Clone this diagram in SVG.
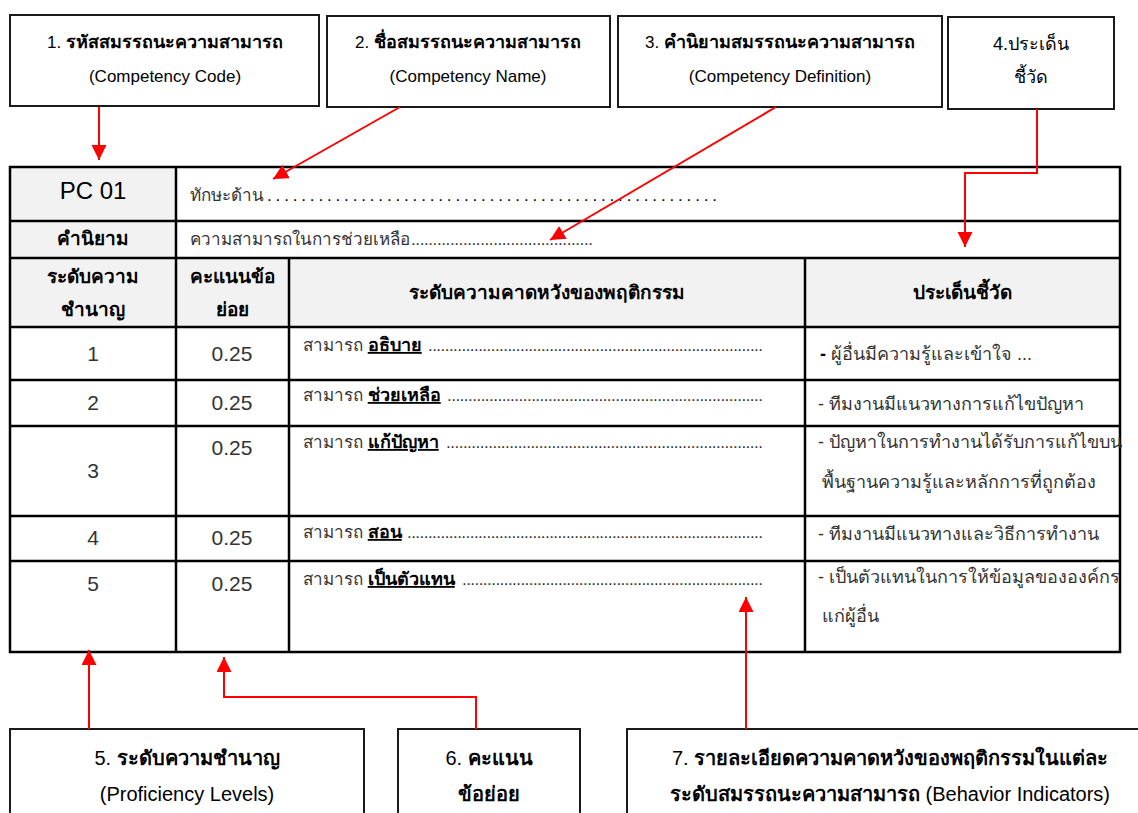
<svg xmlns="http://www.w3.org/2000/svg" width="1138" height="813" viewBox="0 0 1138 813">
<defs>
<style>
.box{fill:#fff;stroke:#1a1a1a;stroke-width:2}
.t{font-family:"Liberation Sans","Noto Sans",sans-serif;fill:#000}
.bt{font-size:17px;text-anchor:middle}
.th{font-size:18px}
.bb{font-size:20px;text-anchor:middle}
.b{font-weight:bold}
.hd{font-size:19px;font-weight:bold;text-anchor:middle}
.cell{font-size:17px;fill:#333}
.rc{font-size:18px;fill:#333}
.num{font-size:21px;fill:#333;text-anchor:middle}
.gl{stroke:#000;stroke-width:2.5;fill:none}
.arr{stroke:#ff0000;stroke-width:2;fill:none;marker-end:url(#ah)}
.u{font-size:18px;font-weight:bold;text-decoration:underline;fill:#000}
</style>
<marker id="ah" markerUnits="userSpaceOnUse" markerWidth="16" markerHeight="16" refX="15" refY="7.5" orient="auto">
<path d="M0,0 L15,7.5 L0,15 z" fill="#ff0000"/>
</marker>
</defs>
<rect width="1138" height="813" fill="#fff"/>

<g id="box1"><rect class="box" x="10" y="15" width="309" height="91"/>
<text class="t bt" x="165" y="48">1. <tspan class="b th">รหัสสมรรถนะความสามารถ</tspan></text>
<text class="t bt" x="165" y="82">(Competency Code)</text></g>

<g id="box2"><rect class="box" x="327" y="16" width="283" height="91"/>
<text class="t bt" x="468" y="48">2. <tspan class="b th">ชื่อสมรรถนะความสามารถ</tspan></text>
<text class="t bt" x="468" y="82">(Competency Name)</text></g>

<g id="box3"><rect class="box" x="618" y="16" width="324" height="91"/>
<text class="t bt" x="780" y="48">3. <tspan class="b th">คำนิยามสมรรถนะความสามารถ</tspan></text>
<text class="t bt" x="780" y="82">(Competency Definition)</text></g>

<g id="box4"><rect class="box" x="948" y="17" width="166" height="92"/>
<text class="t bt th" x="1031" y="50">4.ประเด็น</text>
<text class="t bt th" x="1031" y="83">ชี้วัด</text></g>

<g id="table">
<rect x="10" y="167" width="166" height="91" fill="#f2f2f2"/>
<rect x="10" y="258" width="1110" height="69" fill="#f2f2f2"/>
<rect class="gl" x="10" y="167" width="1110" height="485"/>
<path class="gl" d="M10,221H1120M10,258H1120M10,327H1120M10,380H1120M10,426H1120M10,516H1120M10,561H1120M176,167V652M289,258V652M805,258V652"/>
<text class="t" x="93" y="199" font-size="24" text-anchor="middle">PC 01</text>
<text class="t cell" x="190" y="201">ทักษะด้าน</text>
<text class="t" x="267" y="201" font-size="17" fill="#333" textLength="450" lengthAdjust="spacing">.....................................................</text>
<text class="t hd" x="93" y="245">คำนิยาม</text>
<text class="t cell" x="190" y="245">ความสามารถในการช่วยเหลือ</text>
<text class="t cell" x="411" y="245" textLength="182" lengthAdjust="spacing">..........................................</text>
<text class="t hd" x="93" y="283">ระดับความ</text>
<text class="t hd" x="93" y="316">ชำนาญ</text>
<text class="t hd" x="232" y="283">คะแนนข้อ</text>
<text class="t hd" x="232" y="316">ย่อย</text>
<text class="t hd" x="547" y="299">ระดับความคาดหวังของพฤติกรรม</text>
<text class="t hd" x="962" y="299" font-size="20">ประเด็นชี้วัด</text>

<text class="t num" x="93" y="361">1</text><text class="t num" x="232" y="361">0.25</text>
<text class="t num" x="93" y="410">2</text><text class="t num" x="232" y="410">0.25</text>
<text class="t num" x="93" y="478">3</text><text class="t num" x="232" y="455">0.25</text>
<text class="t num" x="93" y="545">4</text><text class="t num" x="232" y="545">0.25</text>
<text class="t num" x="93" y="591">5</text><text class="t num" x="232" y="591">0.25</text>

<text class="t cell" x="303" y="351">สามารถ <tspan class="u">อธิบาย</tspan></text>
<text class="t cell" x="428" y="351" textLength="335" lengthAdjust="spacing">................................................................................</text>
<text class="t cell" x="303" y="401">สามารถ <tspan class="u">ช่วยเหลือ</tspan></text>
<text class="t cell" x="447" y="401" textLength="316" lengthAdjust="spacing">...........................................................................</text>
<text class="t cell" x="303" y="448">สามารถ <tspan class="u">แก้ปัญหา</tspan></text>
<text class="t cell" x="446" y="448" textLength="317" lengthAdjust="spacing">...........................................................................</text>
<text class="t cell" x="303" y="538">สามารถ <tspan class="u">สอน</tspan></text>
<text class="t cell" x="407" y="538" textLength="356" lengthAdjust="spacing">.....................................................................................</text>
<text class="t cell" x="303" y="585">สามารถ <tspan class="u">เป็นตัวแทน</tspan></text>
<text class="t cell" x="462" y="585" textLength="301" lengthAdjust="spacing">........................................................................</text>

<text class="t rc" x="820" y="360"><tspan font-weight="bold" fill="#000">-</tspan>  ผู้อื่นมีความรู้และเข้าใจ ...</text>
<text class="t rc" x="818" y="410">- ทีมงานมีแนวทางการแก้ไขปัญหา</text>
<text class="t rc" x="818" y="448">- ปัญหาในการทำงานได้รับการแก้ไขบน</text>
<text class="t rc" x="822" y="488">พื้นฐานความรู้และหลักการที่ถูกต้อง</text>
<text class="t rc" x="818" y="540">- ทีมงานมีแนวทางและวิธีการทำงาน</text>
<text class="t rc" x="818" y="583">- เป็นตัวแทนในการให้ข้อมูลขององค์กร</text>
<text class="t rc" x="822" y="622">แก่ผู้อื่น</text>
</g>

<g id="box5"><rect class="box" x="10" y="729" width="354" height="100"/>
<text class="t bb" x="187" y="765">5. <tspan class="b">ระดับความชำนาญ</tspan></text>
<text class="t bb" x="187" y="801">(Proficiency Levels)</text></g>

<g id="box6"><rect class="box" x="398" y="729" width="182" height="100"/>
<text class="t bb" x="489" y="765">6. <tspan class="b">คะแนน</tspan></text>
<text class="t bb b" x="489" y="801">ข้อย่อย</text></g>

<g id="box7"><rect class="box" x="627" y="729" width="526" height="100"/>
<text class="t bb" x="890" y="765" font-size="19.5">7. <tspan class="b">รายละเอียดความคาดหวังของพฤติกรรมในแต่ละ</tspan></text>
<text class="t bb" x="890" y="801" font-size="19.5"><tspan class="b">ระดับสมรรถนะความสามารถ</tspan> (Behavior Indicators)</text></g>

<g id="connectors">
<path class="arr" d="M99,107V160"/>
<path class="arr" d="M400,107L273,179"/>
<path class="arr" d="M776,107L550,240"/>
<path class="arr" d="M1037,109V173H965V247"/>
<path class="arr" d="M89,729V650"/>
<path class="arr" d="M476,729V697H224V657"/>
<path class="arr" d="M746,729V597"/>
</g>
</svg>
